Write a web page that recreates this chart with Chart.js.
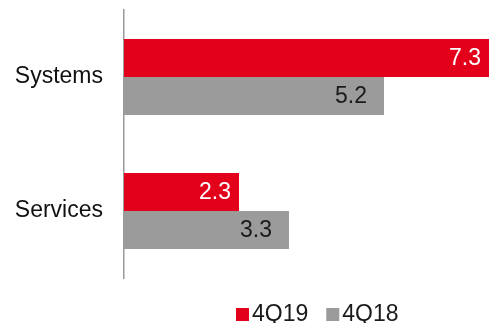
<!DOCTYPE html>
<html>
<head>
<meta charset="utf-8">
<script src="https://cdn.jsdelivr.net/npm/chart.js@4/dist/chart.umd.min.js"></script>
<style>
  html, body { margin: 0; padding: 0; background: #fff; }
  #wrap { width: 491px; height: 323px; }
</style>
</head>
<body>
<div id="wrap"><canvas id="segmentChart"></canvas></div>
<script>
const categories = ['Systems', 'Services'];
const seriesNames = ['4Q19', '4Q18'];
const values4Q19 = [7.3, 2.3];
const values4Q18 = [5.2, 3.3];

const RED = '#e2001a';
const GRAY = '#9b9b9b';
const FONT = 'Liberation Sans, Arial, sans-serif';

// value text drawn inside the end of each bar
const barValueLabels = {
    id: 'barValueLabels',
    afterDatasetsDraw(chart) {
        const ctx = chart.ctx;
        ctx.save();
        ctx.font = '23px ' + FONT;
        ctx.textAlign = 'right';
        ctx.textBaseline = 'middle';
        chart.data.datasets.forEach((ds, i) => {
            const meta = chart.getDatasetMeta(i);
            meta.data.forEach((bar, j) => {
                ctx.fillStyle = ds.labelColor;
                ctx.fillText(ds.data[j].toFixed(1), bar.x - ds.labelInset, bar.y + 1);
            });
        });
        ctx.restore();
    }
};

// small square legend under the plot
const squareLegend = {
    id: 'squareLegend',
    afterDraw(chart) {
        const ctx = chart.ctx;
        ctx.save();
        ctx.font = '23px ' + FONT;
        ctx.textBaseline = 'alphabetic';
        ctx.textAlign = 'left';
        let x = 236;
        const baseline = 321;
        chart.data.datasets.forEach(ds => {
            ctx.fillStyle = ds.backgroundColor;
            ctx.fillRect(x, baseline - 13, 13, 13);
            x += 16;
            ctx.fillStyle = '#1a1a1a';
            ctx.fillText(ds.label, x, baseline);
            x += ctx.measureText(ds.label).width + 18;
        });
        ctx.restore();
    }
};

new Chart(document.getElementById('segmentChart'), {
    type: 'bar',
    data: {
        labels: categories,
        datasets: [{
            label: seriesNames[0],
            data: values4Q19,
            backgroundColor: RED,
            labelColor: '#ffffff',
            labelInset: 8
        }, {
            label: seriesNames[1],
            data: values4Q18,
            backgroundColor: GRAY,
            labelColor: '#1a1a1a',
            labelInset: 17
        }]
    },
    options: {
        indexAxis: 'y',
        responsive: true,
        maintainAspectRatio: false,
        animation: false,
        layout: { padding: { top: 10, right: 2, bottom: 45, left: 0 } },
        datasets: {
            bar: { categoryPercentage: 0.567, barPercentage: 1.0, borderWidth: 0 }
        },
        scales: {
            x: {
                display: false,
                min: 0,
                max: Math.max(...values4Q19, ...values4Q18)
            },
            y: {
                grid: { display: false, drawTicks: false },
                border: { display: true, color: '#999999', width: 1.5 },
                ticks: {
                    color: '#111111',
                    font: { family: FONT, size: 23 },
                    padding: 21
                },
                afterFit(scale) {
                    scale.width = 124;
                    scale.paddingTop = 0;
                    scale.paddingBottom = 0;
                }
            }
        },
        plugins: {
            legend: { display: false },
            tooltip: { enabled: false }
        }
    },
    plugins: [barValueLabels, squareLegend]
});
</script>
</body>
</html>
